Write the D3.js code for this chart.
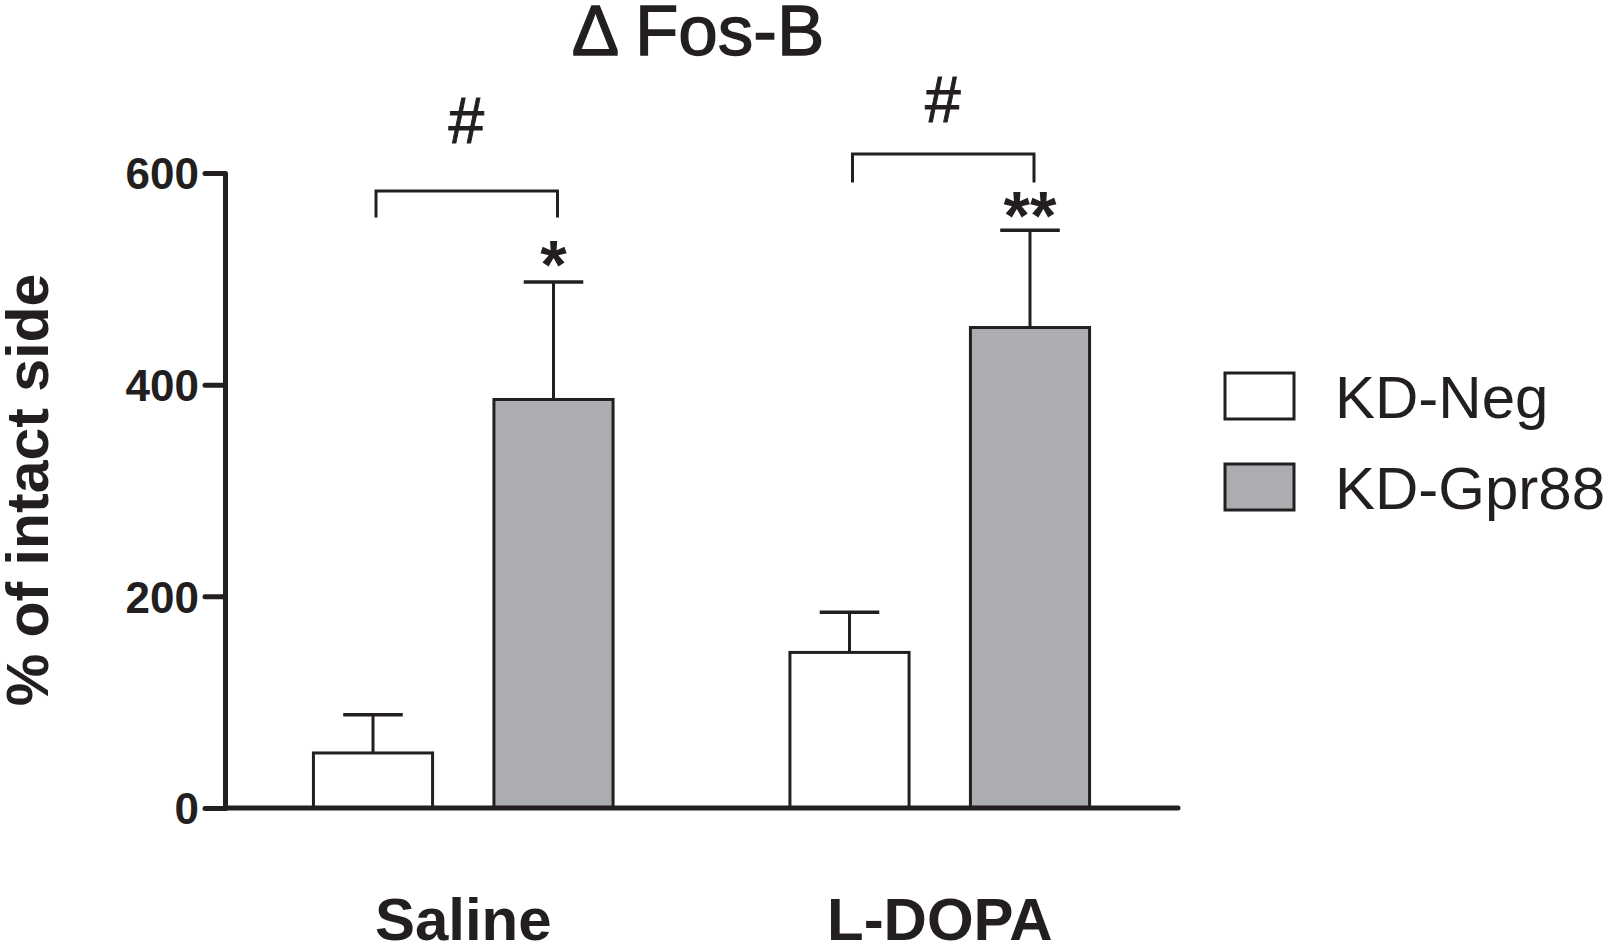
<!DOCTYPE html>
<html>
<head>
<meta charset="utf-8">
<script src="https://cdn.jsdelivr.net/npm/d3@7"></script>
<style>
    body { margin: 0; background: #fff; }
    svg { display: block; font-family: "Liberation Sans", Arial, Helvetica, sans-serif; }
</style>
</head>
<body>
<div class="canvas"></div>
<script>
// data
const groups = ['Saline', 'L-DOPA']
const series = ['KD-Neg', 'KD-Gpr88']
const means = {
    'KD-Neg': [52, 147],
    'KD-Gpr88': [386, 454]
}
const errTop = {
    'KD-Neg': [88, 185],
    'KD-Gpr88': [497, 546]
}
const yTicks = [0, 200, 400, 600]
const stars = ['*', '**']
const starLevel = [528, 574]
const bracketTop = [583, 618]
const bracketLeg = [558, 591]
const hashLevel = [628, 648]

const ink = '#231f20'
const fills = { 'KD-Neg': '#ffffff', 'KD-Gpr88': '#acadb1' }

const svg = d3.select('.canvas')
    .append('svg')
    .attr('width', 1611)
    .attr('height', 952)

const x = d3.scaleBand()
    .domain(groups)
    .range([225, 1178])
    .padding(0)

const xSub = d3.scaleBand()
    .domain(series)
    .range([0, x.bandwidth()])
    .paddingInner(0.34)
    .paddingOuter(0.49)

const y = d3.scaleLinear()
    .domain([0, 600])
    .range([808, 173])

// title (slightly heavier than plain regular, like the figure)
svg.append('text')
    .attr('x', 698)
    .attr('y', 55)
    .attr('text-anchor', 'middle')
    .attr('font-size', 71)
    .attr('fill', ink)
    .attr('stroke', ink)
    .attr('stroke-width', 1.3)
    .text('\u0394 Fos-B')

// y axis
const yAxis = svg.append('g')
    .attr('transform', 'translate(225,0)')
    .call(d3.axisLeft(y).tickValues(yTicks).tickSize(20).tickPadding(6).tickSizeOuter(0))

yAxis.select('.domain').attr('stroke', ink).attr('stroke-width', 5).attr('stroke-linecap', 'round')
yAxis.selectAll('.tick line').attr('stroke', ink).attr('stroke-width', 5).attr('stroke-linecap', 'round')
yAxis.selectAll('.tick text')
    .attr('font-family', '"Liberation Sans", Arial, sans-serif')
    .attr('font-weight', 'bold')
    .attr('font-size', 44)
    .attr('fill', ink)
    .attr('dy', '0.36em')

svg.append('text')
    .attr('transform', 'translate(48,490) rotate(-90)')
    .attr('text-anchor', 'middle')
    .attr('font-weight', 'bold')
    .attr('font-size', 59)
    .attr('fill', ink)
    .text('% of intact side')

// bars
const cells = []
groups.forEach((g, i) => {
    series.forEach(s => {
        cells.push({ group: g, key: s, value: means[s][i], err: errTop[s][i] })
    })
})

const barG = svg.append('g')

const bars = barG.selectAll('g.bar')
    .data(cells)
    .enter()
    .append('g')
    .attr('class', 'bar')
    .attr('transform', d => `translate(${x(d.group) + xSub(d.key)},0)`)

const bw = xSub.bandwidth()

// error bars first so the bar outline sits on top
bars.append('line')
    .attr('x1', bw / 2).attr('x2', bw / 2)
    .attr('y1', d => y(d.value))
    .attr('y2', d => y(d.err))
    .attr('stroke', ink)
    .attr('stroke-width', 3)

bars.append('line')
    .attr('x1', bw / 4).attr('x2', bw * 3 / 4)
    .attr('y1', d => y(d.err))
    .attr('y2', d => y(d.err))
    .attr('stroke', ink)
    .attr('stroke-width', 3.5)

bars.append('rect')
    .attr('x', 0)
    .attr('width', bw)
    .attr('y', d => y(d.value))
    .attr('height', d => y(0) - y(d.value))
    .attr('fill', d => fills[d.key])
    .attr('stroke', ink)
    .attr('stroke-width', 3)

// x axis line
svg.append('line')
    .attr('x1', x.range()[0]).attr('x2', x.range()[1])
    .attr('y1', y(0)).attr('y2', y(0))
    .attr('stroke', ink)
    .attr('stroke-width', 5)
    .attr('stroke-linecap', 'round')

svg.selectAll('text.cat')
    .data(groups)
    .enter()
    .append('text')
    .attr('class', 'cat')
    .attr('x', d => x(d) + x.bandwidth() / 2)
    .attr('y', 940)
    .attr('text-anchor', 'middle')
    .attr('font-weight', 'bold')
    .attr('font-size', 60)
    .attr('fill', ink)
    .text(d => d)

// significance marks
const center = (g, s) => x(g) + xSub(s) + bw / 2

svg.selectAll('text.star')
    .data(groups)
    .enter()
    .append('text')
    .attr('class', 'star')
    .attr('x', d => center(d, 'KD-Gpr88'))
    .attr('y', (d, i) => y(starLevel[i]) + 0.57 * 68)
    .attr('text-anchor', 'middle')
    .attr('font-weight', 'bold')
    .attr('font-size', 68)
    .attr('fill', ink)
    .text((d, i) => stars[i])

svg.selectAll('path.bracket')
    .data(groups)
    .enter()
    .append('path')
    .attr('class', 'bracket')
    .attr('d', (d, i) => {
        const x0 = center(d, 'KD-Neg') + 3
        const x1 = center(d, 'KD-Gpr88') + 4
        return `M${x0},${y(bracketLeg[i])}V${y(bracketTop[i])}H${x1}V${y(bracketLeg[i])}`
    })
    .attr('fill', 'none')
    .attr('stroke', ink)
    .attr('stroke-width', 3)

svg.selectAll('text.hash')
    .data(groups)
    .enter()
    .append('text')
    .attr('class', 'hash')
    .attr('x', d => (center(d, 'KD-Neg') + center(d, 'KD-Gpr88')) / 2 + 3)
    .attr('y', (d, i) => y(hashLevel[i]))
    .attr('text-anchor', 'middle')
    .attr('font-size', 64)
    .attr('fill', ink)
    .attr('stroke', ink)
    .attr('stroke-width', 1)
    .text('#')

// legend
const legend = svg.append('g')
    .attr('transform', 'translate(1225,373)')

const items = legend.selectAll('g')
    .data(series)
    .enter()
    .append('g')
    .attr('transform', (d, i) => `translate(0,${i * 91})`)

items.append('rect')
    .attr('width', 69)
    .attr('height', 46)
    .attr('fill', d => fills[d])
    .attr('stroke', ink)
    .attr('stroke-width', 3)

items.append('text')
    .attr('x', 110)
    .attr('y', 45)
    .attr('font-size', 60)
    .attr('fill', ink)
    .text(d => d)
</script>
</body>
</html>
